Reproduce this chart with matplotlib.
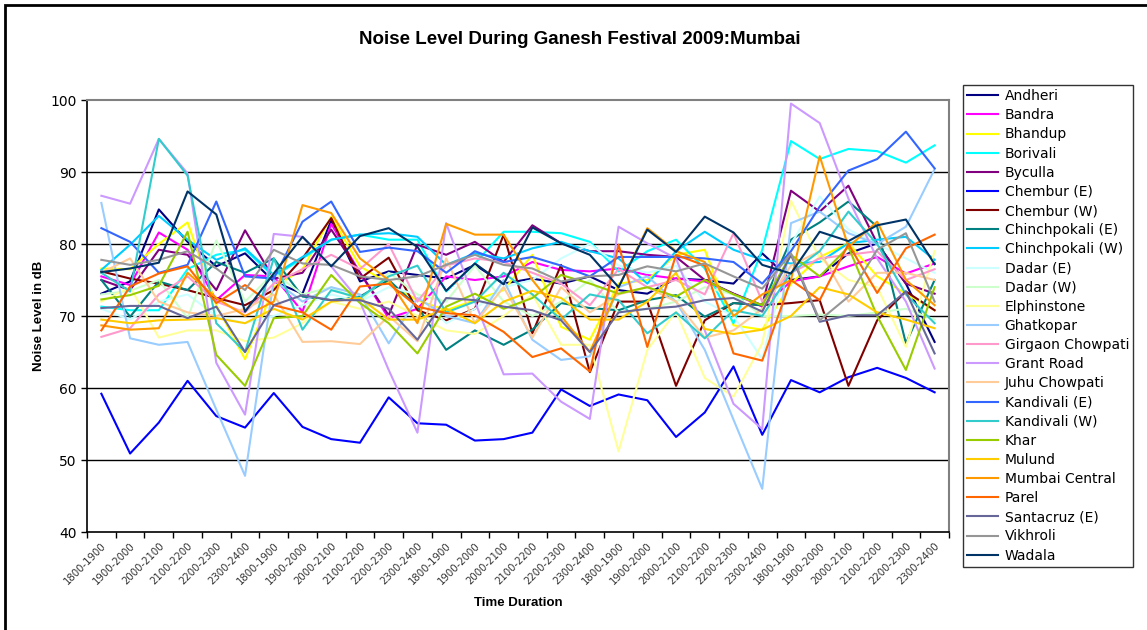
import matplotlib.pyplot as plt
from matplotlib.patches import Rectangle

slots = ['1800-1900', '1900-2000', '2000-2100', '2100-2200', '2200-2300', '2300-2400'] * 5

stations = ['Andheri', 'Bandra', 'Bhandup', 'Borivali', 'Byculla', 'Chembur (E)', 'Chembur (W)',
            'Chinchpokali (E)', 'Chinchpokali (W)', 'Dadar (E)', 'Dadar (W)', 'Elphinstone',
            'Ghatkopar', 'Girgaon Chowpati', 'Grant Road', 'Juhu Chowpati', 'Kandivali (E)',
            'Kandivali (W)', 'Khar', 'Mulund', 'Mumbai Central', 'Parel', 'Santacruz (E)',
            'Vikhroli', 'Wadala']

colors = ['#000080', '#FF00FF', '#FFFF00', '#00FFFF', '#800080', '#0000FF', '#800000',
          '#008080', '#00CCFF', '#CCFFFF', '#CCFFCC', '#FFFF99', '#99CCFF', '#FF99CC',
          '#CC99FF', '#FFCC99', '#3366FF', '#33CCCC', '#99CC00', '#FFCC00', '#FF9900',
          '#FF6600', '#666699', '#969696', '#003366']

andheri = [73.1, 74.8, 84.8, 80.3, 76.9, 78.7, 74.8, 73.1, 83.3, 74.8, 76.2, 75.7, 75.2, 77.1, 74.5,
           75.2, 74.5, 75.5, 73.6, 73.1, 75.2, 75.0, 74.5, 78.7, 75.0, 75.5, 78.7, 80.1, 74.5, 66.4]
bandra = [75.5, 74.3, 81.6, 79.2, 72.2, 75.7, 75.5, 70.6, 82.8, 76.0, 69.7, 71.0, 75.5, 75.0, 75.5,
          77.5, 76.4, 76.2, 76.6, 75.7, 75.2, 74.8, 73.1, 71.3, 74.8, 75.5, 76.9, 78.2, 75.9, 77.3]
bhandup = [76.6, 76.5, 80.0, 83.0, 71.5, 64.0, 74.0, 76.5, 83.8, 76.9, 74.5, 72.2, 70.8, 72.2, 73.6,
           78.5, 68.5, 66.7, 74.5, 75.0, 78.5, 79.2, 68.7, 68.1, 74.5, 78.2, 80.1, 75.5, 73.1, 70.8]
borivali = [71.3, 70.8, 70.8, 76.5, 78.5, 79.2, 75.5, 78.0, 80.6, 81.3, 80.6, 80.6, 73.4, 77.3, 81.7,
            81.7, 81.5, 80.3, 76.2, 79.0, 80.6, 76.6, 69.0, 79.2, 94.3, 91.8, 93.2, 92.9, 91.3, 93.7]
byculla = [75.0, 73.6, 79.2, 78.5, 73.6, 81.9, 75.2, 76.0, 82.0, 76.0, 70.1, 79.9, 78.5, 80.3, 77.5,
           82.6, 80.1, 79.0, 79.0, 78.5, 78.2, 75.0, 73.1, 71.5, 87.4, 84.5, 88.1, 80.1, 74.5, 73.1]
chembur_e = [59.2, 50.9, 55.2, 61.0, 56.1, 54.5, 59.3, 54.6, 52.9, 52.4, 58.7, 55.1, 54.9, 52.7, 52.9,
             53.8, 59.8, 57.5, 59.1, 58.3, 53.2, 56.6, 63.0, 53.5, 61.1, 59.4, 61.5, 62.8, 61.4, 59.4]
chembur_w = [76.2, 75.2, 74.5, 73.6, 72.5, 71.5, 73.6, 78.0, 83.6, 75.2, 78.1, 70.8, 69.4, 71.0, 81.3,
             67.6, 77.1, 62.2, 72.0, 72.0, 60.3, 69.4, 71.8, 71.5, 71.8, 72.2, 60.3, 69.4, 73.4, 70.8]
chinch_e = [75.0, 69.9, 74.8, 73.6, 77.5, 76.0, 78.0, 72.7, 72.2, 72.7, 75.0, 71.3, 65.3, 68.0, 66.0,
            68.1, 71.8, 71.1, 70.8, 72.2, 72.9, 69.9, 71.8, 71.5, 80.6, 83.0, 85.9, 82.4, 66.2, 75.0]
chinch_w = [76.4, 79.9, 83.9, 80.6, 77.8, 79.4, 75.7, 78.2, 80.6, 81.3, 81.5, 81.0, 77.1, 78.7, 78.0,
            79.4, 80.3, 79.0, 78.0, 74.5, 79.0, 81.7, 79.2, 77.8, 77.3, 77.5, 80.1, 80.6, 81.0, 77.8]
dadar_e = [71.0, 69.5, 72.0, 73.0, 70.0, 69.0, 70.0, 71.5, 73.0, 72.0, 74.0, 73.0, 69.0, 71.0, 74.0,
           75.0, 78.0, 80.0, 77.0, 76.0, 77.0, 72.0, 70.0, 64.0, 80.0, 86.6, 82.0, 80.0, 78.0, 76.0]
dadar_w = [73.0, 73.5, 75.0, 69.7, 80.5, 72.0, 76.0, 73.0, 74.0, 72.0, 76.0, 73.0, 72.0, 77.0, 72.0,
           70.0, 72.0, 75.0, 70.5, 71.0, 72.0, 74.0, 73.0, 70.0, 70.0, 70.2, 70.0, 70.5, 71.0, 69.5]
elphinstone = [72.0, 74.0, 67.0, 68.0, 68.0, 66.5, 67.0, 69.0, 72.0, 71.0, 72.0, 70.0, 68.0, 67.5, 70.0,
               73.0, 66.0, 66.0, 51.2, 65.3, 70.6, 61.4, 58.8, 66.2, 86.0, 78.0, 75.0, 74.0, 65.7, 79.0]
ghatkopar = [85.7, 66.9, 66.0, 66.4, 57.0, 47.8, 75.0, 72.0, 74.0, 73.0, 66.2, 72.5, 70.0, 69.0, 75.0,
             66.7, 63.9, 64.4, 74.0, 75.5, 72.0, 65.3, 55.6, 46.0, 82.9, 84.5, 81.5, 80.0, 82.4, 90.4]
girgaon = [67.1, 68.3, 73.0, 75.5, 72.0, 70.5, 74.5, 76.5, 78.5, 76.5, 80.0, 72.0, 77.0, 78.0, 77.5,
           76.0, 74.5, 71.5, 76.5, 74.0, 75.0, 73.0, 81.5, 72.0, 76.0, 78.0, 78.5, 79.0, 75.0, 76.5]
grant_road = [86.7, 85.6, 94.6, 89.8, 63.5, 56.3, 81.4, 81.0, 76.9, 72.0, 62.5, 53.8, 82.9, 72.0, 61.9,
              62.0, 58.1, 55.7, 82.4, 80.1, 78.0, 68.0, 57.8, 54.3, 99.5, 96.8, 86.3, 78.0, 72.0, 62.7]
juhu = [76.0, 78.0, 72.0, 70.5, 70.0, 71.0, 73.0, 66.4, 66.5, 66.1, 70.0, 66.5, 78.0, 69.0, 74.0,
        67.0, 74.0, 70.5, 73.0, 74.0, 72.0, 67.0, 68.0, 71.0, 77.0, 79.0, 72.0, 76.0, 76.0, 75.0]
kandivali_e = [82.2, 80.3, 76.0, 77.1, 85.9, 75.5, 75.2, 83.1, 85.9, 78.9, 79.5, 79.0, 76.0, 79.0, 77.5,
               78.2, 77.0, 75.5, 78.2, 78.2, 78.2, 78.0, 77.5, 74.5, 79.0, 85.2, 90.2, 91.8, 95.6, 90.5]
kandivali_w = [76.0, 73.4, 94.6, 89.5, 69.0, 65.0, 78.0, 68.1, 73.6, 72.5, 75.5, 77.0, 70.5, 72.0, 76.0,
               73.0, 69.5, 73.0, 72.2, 67.6, 70.5, 66.9, 70.8, 70.0, 76.0, 79.0, 84.5, 80.0, 73.0, 69.0]
khar = [72.3, 72.9, 74.2, 81.7, 64.6, 60.3, 69.7, 70.0, 75.7, 71.8, 69.0, 64.8, 71.3, 73.1, 71.0,
        72.5, 75.7, 74.5, 73.1, 74.0, 72.7, 75.0, 73.0, 71.5, 78.5, 75.5, 79.6, 70.0, 62.5, 74.0]
mulund = [69.5, 69.0, 69.4, 69.5, 69.7, 69.0, 71.0, 69.5, 72.0, 72.5, 69.5, 69.5, 71.0, 69.0, 72.0,
          73.5, 72.5, 69.5, 69.5, 72.0, 76.0, 68.2, 67.5, 68.1, 70.0, 74.0, 73.0, 70.5, 69.5, 68.3]
mumbai_central = [68.7, 68.1, 68.3, 76.0, 72.5, 70.0, 72.0, 85.4, 84.3, 78.0, 75.0, 69.0, 82.8, 81.3, 81.3,
                  75.0, 70.0, 65.0, 74.0, 82.2, 79.0, 77.5, 70.0, 73.0, 75.0, 92.2, 79.6, 83.1, 75.0, 71.5]
parel = [68.0, 74.1, 75.9, 76.9, 71.8, 74.3, 71.5, 70.5, 68.1, 74.1, 74.5, 71.3, 70.4, 70.1, 67.8,
         64.3, 65.5, 62.3, 79.9, 65.7, 78.5, 77.0, 64.8, 63.8, 75.0, 72.2, 80.0, 73.2, 79.4, 81.3]
santacruz = [71.1, 71.4, 71.4, 69.7, 71.3, 65.0, 71.5, 72.9, 72.2, 72.2, 71.0, 66.7, 72.5, 72.2, 71.3,
             70.8, 69.4, 65.0, 70.5, 71.0, 71.3, 72.2, 72.5, 70.6, 78.5, 69.2, 70.1, 70.1, 73.4, 64.8]
vikhroli = [77.8, 77.1, 77.8, 79.0, 76.6, 73.6, 79.2, 77.3, 77.1, 75.5, 75.0, 75.5, 77.1, 78.5, 77.1,
            76.6, 74.8, 75.5, 75.7, 76.9, 76.2, 77.3, 75.5, 73.8, 78.7, 69.4, 72.7, 79.2, 81.5, 72.0]
wadala = [76.1, 76.6, 77.4, 87.3, 84.1, 70.6, 75.9, 81.0, 76.9, 81.1, 82.2, 79.6, 73.5, 77.3, 74.4,
          82.3, 80.1, 78.5, 74.0, 82.0, 78.9, 83.8, 81.6, 77.1, 75.9, 81.7, 80.4, 82.6, 83.4, 77.2]

series = [andheri, bandra, bhandup, borivali, byculla, chembur_e, chembur_w, chinch_e, chinch_w,
          dadar_e, dadar_w, elphinstone, ghatkopar, girgaon, grant_road, juhu, kandivali_e,
          kandivali_w, khar, mulund, mumbai_central, parel, santacruz, vikhroli, wadala]

fig = plt.figure(figsize=(11.47, 6.3), dpi=100)
ax = fig.add_axes([87 / 1147, 1 - 532 / 630, 862 / 1147, 432 / 630])

# outer chart border (only left and top edges show)
fig.patches.append(Rectangle((5 / 1147, -0.1), 1.2, 1.1 - 5 / 630, transform=fig.transFigure,
                             fill=False, edgecolor='black', linewidth=2))

x = range(len(slots))
for name, vals, c in zip(stations, series, colors):
    ax.plot(x, vals, color=c, linewidth=1.5, label=name)

ax.set_xlim(-0.5, len(slots) - 0.5)
ax.set_ylim(40, 100)
ax.set_yticks(range(40, 101, 10))
for v in range(50, 100, 10):
    ax.axhline(v, color='black', linewidth=1, zorder=0)

ax.set_xticks(list(x))
ax.set_xticklabels(slots, rotation=45, ha='right', rotation_mode='anchor', fontsize=7.3, color='#333333')
ax.set_xticks([i - 0.5 for i in range(len(slots) + 1)], minor=True)
ax.tick_params(axis='x', which='major', length=0, pad=6)
ax.tick_params(axis='x', which='minor', length=4, width=1)
ax.tick_params(axis='y', length=4, width=1, labelsize=10)

for s in ['left', 'bottom']:
    ax.spines[s].set_color('black')
    ax.spines[s].set_linewidth(1.2)
for s in ['top', 'right']:
    ax.spines[s].set_color('#808080')
    ax.spines[s].set_linewidth(1.5)

ax.set_ylabel('Noise Level in dB', fontsize=9.5, fontweight='bold', family='Liberation Sans', labelpad=4)
ax.set_xlabel('Time Duration', fontsize=9.5, fontweight='bold', family='Liberation Sans', labelpad=8)
fig.text(580 / 1147, 1 - 40 / 630, 'Noise Level During Ganesh Festival 2009:Mumbai', ha='center',
         va='center', fontsize=13.5, fontweight='bold', family='Liberation Sans')

leg = ax.legend(loc='upper left', bbox_to_anchor=(963 / 1147, 1 - 85 / 630), bbox_transform=fig.transFigure,
                fontsize=10, frameon=True, fancybox=False, edgecolor='black', labelspacing=0.37,
                handlelength=2.2, handletextpad=0.5, borderpad=0.3, borderaxespad=0)
leg.get_frame().set_linewidth(1)

fig.savefig('out.png', dpi=100)
